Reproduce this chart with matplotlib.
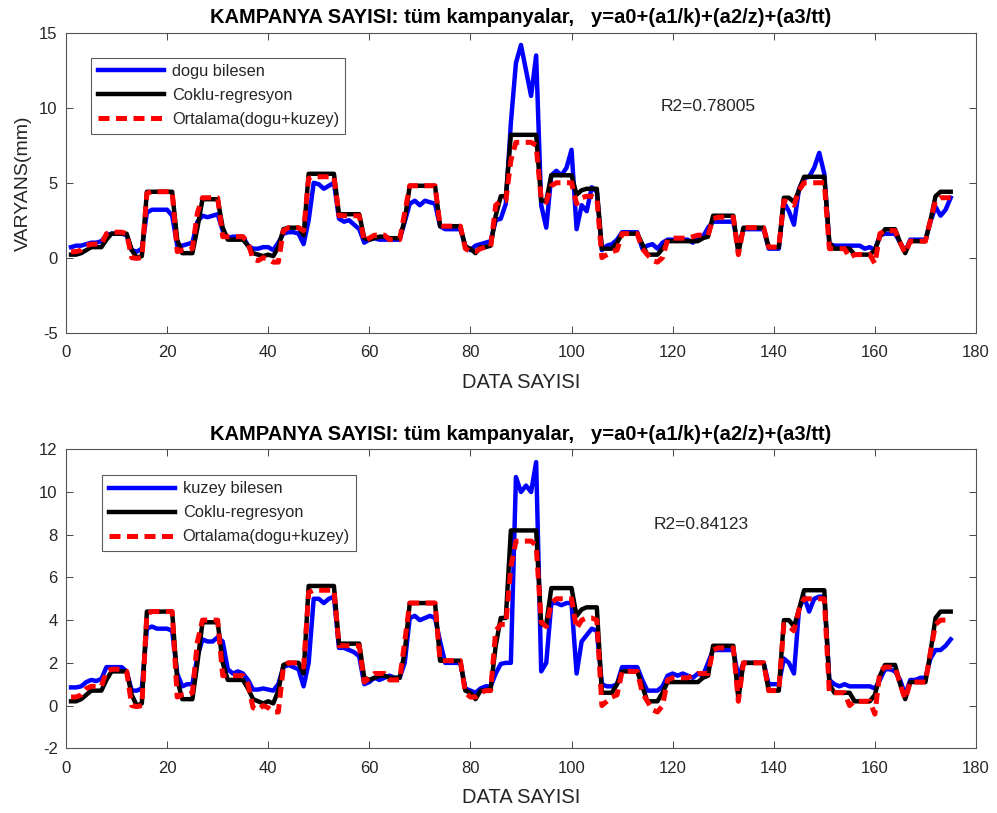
import numpy as np
import matplotlib
matplotlib.use('Agg')
import matplotlib.pyplot as plt

plt.rcParams['font.family'] = ['Liberation Sans', 'DejaVu Sans']
plt.rcParams['axes.unicode_minus'] = False

# data index 1..175
x = np.arange(1, 176)

dogu = [0.7, 0.8, 0.8, 0.9, 1.0, 1.0, 1.1, 1.5, 1.6, 1.6,
        1.6, 1.5, 0.5, 0.4, 0.6, 3.0, 3.2, 3.2, 3.2, 3.2,
        2.8, 0.8, 0.8, 0.9, 1.0, 2.4, 2.8, 2.7, 2.8, 2.9,
        1.8, 1.3, 1.4, 1.4, 1.4, 0.8, 0.6, 0.6, 0.7, 0.7,
        0.5, 1.0, 1.6, 1.7, 1.7, 1.6, 0.9, 2.5, 5.0, 4.9,
        4.6, 4.8, 5.0, 2.6, 2.4, 2.5, 2.2, 1.9, 1.0, 1.2,
        1.3, 1.2, 1.2, 1.2, 1.2, 1.2, 2.4, 3.6, 3.8, 3.5,
        3.8, 3.7, 3.6, 2.1, 1.9, 1.9, 1.9, 1.9, 0.8, 0.5,
        0.8, 0.9, 1.0, 1.1, 2.5, 2.6, 3.6, 9.0, 13.0, 14.2,
        12.5, 10.8, 13.5, 3.5, 2.0, 5.5, 5.8, 5.5, 6.0, 7.2,
        1.9, 3.5, 3.1, 4.7, 4.4, 0.5, 0.8, 0.9, 1.2, 1.7,
        1.7, 1.7, 1.7, 0.6, 0.8, 0.9, 0.6, 1.0, 1.2, 1.2,
        1.2, 1.2, 1.2, 1.0, 1.4, 1.4, 2.0, 2.4, 2.4, 2.4,
        2.4, 2.4, 0.6, 1.9, 1.9, 1.9, 1.9, 1.9, 0.6, 0.6,
        0.6, 3.7, 3.1, 2.2, 4.6, 5.3, 5.4, 6.0, 7.0, 5.6,
        0.9, 0.8, 0.8, 0.8, 0.8, 0.8, 0.8, 0.6, 0.7, 0.5,
        1.5, 1.6, 1.6, 1.6, 1.0, 0.4, 1.2, 1.2, 1.2, 1.2,
        2.4, 3.4, 2.8, 3.2, 4.0]

kuzey = [0.85, 0.85, 0.9, 1.1, 1.2, 1.15, 1.25, 1.8, 1.8, 1.8,
         1.8, 1.6, 0.7, 0.7, 0.8, 3.6, 3.7, 3.6, 3.6, 3.6,
         3.5, 1.5, 0.9, 1.0, 1.0, 2.3, 3.1, 3.0, 3.0, 3.2,
         3.0, 1.7, 1.5, 1.6, 1.5, 1.2, 0.75, 0.75, 0.8, 0.75,
         0.7, 1.0, 1.8, 1.9, 1.8, 1.7, 0.9, 2.0, 5.0, 5.0,
         4.8, 5.0, 5.1, 2.7, 2.7, 2.6, 2.5, 2.3, 1.0, 1.1,
         1.3, 1.2, 1.3, 1.4, 1.3, 1.3, 2.0, 4.1, 4.2, 4.0,
         4.1, 4.2, 4.1, 3.0, 2.0, 2.0, 2.0, 2.0, 0.8, 0.7,
         0.6, 0.8, 0.9, 0.9, 1.5, 1.95, 2.0, 2.0, 10.7, 10.0,
         10.3, 10.0, 11.4, 1.6, 2.0, 4.8, 4.8, 4.7, 4.8, 4.8,
         1.5, 3.0, 3.3, 3.6, 3.5, 1.0, 0.9, 0.9, 1.0, 1.8,
         1.8, 1.8, 1.8, 1.2, 0.7, 0.7, 0.7, 0.9, 1.4, 1.5,
         1.4, 1.5, 1.4, 1.3, 1.5, 1.4, 2.0, 2.6, 2.6, 2.6,
         2.6, 2.6, 1.3, 2.0, 2.0, 2.0, 2.0, 2.0, 1.0, 1.0,
         1.0, 2.2, 2.0, 1.5, 4.5, 5.1, 4.4, 5.0, 5.1, 5.1,
         1.2, 1.0, 0.9, 1.0, 0.9, 0.9, 0.9, 0.9, 0.9, 0.8,
         1.2, 1.7, 1.7, 1.6, 1.2, 0.5, 1.2, 1.2, 1.3, 1.3,
         2.2, 2.6, 2.6, 2.8, 3.1]

coklu = [0.2, 0.2, 0.3, 0.5, 0.7, 0.7, 0.7, 1.2, 1.6, 1.6,
         1.6, 1.6, 0.5, 0.0, 0.1, 4.4, 4.4, 4.4, 4.4, 4.4,
         4.4, 1.2, 0.3, 0.3, 0.3, 2.0, 3.9, 3.9, 3.9, 3.9,
         2.0, 1.2, 1.2, 1.2, 1.2, 0.8, 0.3, 0.2, 0.1, 0.2,
         0.1, 0.7, 1.9, 2.0, 2.0, 2.0, 1.5, 5.6, 5.6, 5.6,
         5.6, 5.6, 5.6, 2.9, 2.9, 2.9, 2.9, 2.9, 1.3, 1.2,
         1.3, 1.4, 1.4, 1.3, 1.3, 1.3, 2.5, 4.8, 4.8, 4.8,
         4.8, 4.8, 4.8, 2.1, 2.1, 2.1, 2.1, 2.1, 0.7, 0.6,
         0.3, 0.7, 0.7, 0.8, 2.8, 4.1, 4.1, 8.2, 8.2, 8.2,
         8.2, 8.2, 8.2, 3.8, 3.8, 5.5, 5.5, 5.5, 5.5, 5.5,
         4.2, 4.5, 4.6, 4.6, 4.6, 0.6, 0.6, 0.6, 1.0, 1.6,
         1.6, 1.6, 1.6, 0.9, 0.2, 0.2, 0.2, 0.6, 1.1, 1.1,
         1.1, 1.1, 1.1, 1.1, 1.1, 1.3, 1.4, 2.8, 2.8, 2.8,
         2.8, 2.8, 0.3, 2.0, 2.0, 2.0, 2.0, 2.0, 0.7, 0.7,
         0.7, 4.0, 4.0, 3.7, 4.5, 5.4, 5.4, 5.4, 5.4, 5.4,
         1.0, 0.6, 0.6, 0.6, 0.6, 0.2, 0.2, 0.2, 0.2, 0.5,
         1.4, 1.9, 1.9, 1.9, 1.0, 0.3, 1.1, 1.1, 1.1, 1.1,
         2.5, 4.1, 4.4, 4.4, 4.4]

ortalama = [0.4, 0.4, 0.5, 0.8, 0.9, 0.9, 0.9, 1.6, 1.7, 1.7,
            1.7, 1.6, 0.0, -0.05, 0.0, 4.3, 4.4, 4.4, 4.4, 4.4,
            4.4, 0.4, 0.5, 0.5, 0.6, 3.0, 4.0, 4.0, 4.0, 4.0,
            1.4, 1.4, 1.4, 1.4, 1.4, 1.0, -0.1, -0.2, 0.0, -0.1,
            -0.3, -0.3, 1.8, 2.0, 2.0, 2.0, 1.8, 5.3, 5.4, 5.4,
            5.4, 5.4, 5.4, 2.8, 2.8, 2.8, 2.8, 2.8, 1.1, 1.3,
            1.5, 1.5, 1.5, 1.2, 1.2, 1.2, 3.0, 4.8, 4.8, 4.8,
            4.8, 4.8, 4.8, 2.1, 2.1, 2.1, 2.1, 2.1, 0.6, 0.4,
            0.4, 0.6, 0.7, 0.7, 3.5, 3.8, 3.8, 6.5, 7.7, 7.7,
            7.7, 7.7, 7.5, 3.9, 3.7, 4.8, 5.0, 5.0, 5.0, 5.0,
            3.6, 4.0, 4.1, 4.1, 4.0, 0.0, 0.2, 0.4, 0.5, 1.6,
            1.6, 1.6, 1.6, 0.6, 0.2, -0.2, -0.3, 0.0, 1.2, 1.3,
            1.3, 1.3, 1.3, 1.4, 1.5, 1.5, 1.5, 2.6, 2.7, 2.7,
            2.7, 2.7, 0.2, 2.0, 2.0, 2.0, 2.0, 2.0, 0.7, 0.7,
            0.7, 3.8, 3.7, 3.5, 4.5, 5.0, 5.0, 5.0, 5.0, 5.0,
            0.6, 0.6, 0.6, 0.6, 0.0, 0.2, 0.2, 0.2, 0.2, -0.4,
            1.6, 1.8, 1.8, 1.8, 1.0, 0.3, 1.1, 1.1, 1.1, 1.1,
            2.5, 3.8, 4.0, 4.0, 4.0]

baslik = 'KAMPANYA SAYISI: tüm kampanyalar,   y=a0+(a1/k)+(a2/z)+(a3/tt)'
grey = '#262626'

fig = plt.figure(figsize=(9.97, 8.13), dpi=100)
ax1 = fig.add_axes([0.0662, 0.591, 0.9127, 0.3684])
ax2 = fig.add_axes([0.0662, 0.0796, 0.9127, 0.3678])

panels = [
    (ax1, dogu, 'dogu bilesen', 'R2=0.78005', (117.7, 10.1), (-5, 15), 5, (0.028, 0.918)),
    (ax2, kuzey, 'kuzey bilesen', 'R2=0.84123', (116.3, 8.5), (-2, 12), 2, (0.040, 0.915)),
]

for ax, comp, comp_name, r2, r2_pos, ylim, ystep, leg_pos in panels:
    ax.plot(x, comp, color='blue', lw=3.2, label=comp_name)
    ax.plot(x, coklu, color='black', lw=3.2, label='Coklu-regresyon')
    ax.plot(x, ortalama, color='red', lw=3.6, ls=(0, (2.2, 1.3)),
            label='Ortalama(dogu+kuzey)')
    ax.set_xlim(0, 180)
    ax.set_ylim(*ylim)
    ax.set_xticks(np.arange(0, 181, 20))
    ax.set_yticks(np.arange(ylim[0], ylim[1] + 0.1, ystep))
    ax.tick_params(direction='in', top=True, right=True, labelsize=12,
                   colors=grey, length=5, width=0.6)
    ax.tick_params(axis='x', pad=9)
    ax.tick_params(axis='y', pad=6)
    for s in ax.spines.values():
        s.set_color('#555555')
        s.set_linewidth(0.8)
    ax.set_xlabel('DATA SAYISI', fontsize=14.5, color=grey, labelpad=9)
    ax.set_title(baslik, fontsize=14.5, fontweight='bold', color='black', pad=7)
    ax.text(r2_pos[0], r2_pos[1], r2, fontsize=12.5, color=grey, va='center')
    leg = ax.legend(loc='upper left', bbox_to_anchor=leg_pos,
                    fontsize=11.8, fancybox=False, edgecolor='#333333',
                    handlelength=4.0, borderpad=0.4, labelspacing=0.55,
                    handletextpad=0.5, borderaxespad=0)
    leg.get_frame().set_linewidth(0.8)
    for t in leg.get_texts():
        t.set_color(grey)

ax1.set_ylabel('VARYANS(mm)', fontsize=14, color=grey, labelpad=5)

fig.savefig('out.png', dpi=100)
